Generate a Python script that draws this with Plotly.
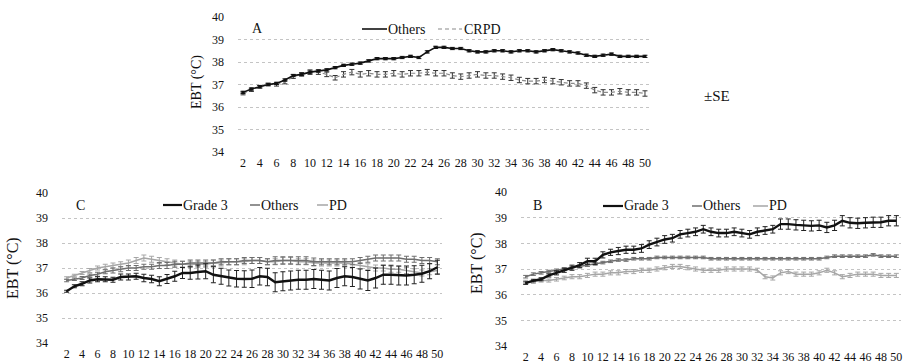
import plotly.graph_objects as go

# ---------------- data ----------------
days = [2, 3, 4, 5, 6, 7, 8, 9, 10, 11, 12, 13, 14, 15, 16, 17, 18, 19, 20, 21, 22, 23, 24, 25, 26,
        27, 28, 29, 30, 31, 32, 33, 34, 35, 36, 37, 38, 39, 40, 41, 42, 43, 44, 45, 46, 47, 48, 49, 50]
x_tick_vals = [2, 4, 6, 8, 10, 12, 14, 16, 18, 20, 22, 24, 26, 28, 30, 32, 34, 36, 38, 40, 42, 44, 46, 48, 50]
x_tick_text = ["2", "4", "6", "8", "10", "12", "14", "16", "18", "20", "22", "24", "26", "28", "30",
               "32", "34", "36", "38", "40", "42", "44", "46", "48", "50"]
y_tick_vals = [34, 35, 36, 37, 38, 39, 40]

# Panel A
A_others = [36.65, 36.8, 36.9, 37.0, 37.05, 37.2, 37.4, 37.45, 37.55, 37.6, 37.65, 37.75, 37.85, 37.9,
            37.95, 38.05, 38.15, 38.15, 38.15, 38.2, 38.25, 38.2, 38.45, 38.65, 38.65, 38.6, 38.6, 38.5,
            38.45, 38.45, 38.5, 38.5, 38.45, 38.5, 38.5, 38.45, 38.5, 38.55, 38.5, 38.45, 38.4, 38.3,
            38.25, 38.3, 38.35, 38.25, 38.25, 38.25, 38.25]
A_others_se = [0.05] * 49
A_crpd = [36.6, 36.75, 36.9, 37.0, 37.0, 37.1, 37.35, 37.45, 37.55, 37.55, 37.45, 37.3, 37.45, 37.55,
          37.45, 37.5, 37.45, 37.45, 37.5, 37.45, 37.5, 37.5, 37.55, 37.5, 37.5, 37.4, 37.35, 37.4,
          37.45, 37.4, 37.4, 37.35, 37.3, 37.2, 37.15, 37.15, 37.2, 37.15, 37.1, 37.05, 37.05, 36.95,
          36.75, 36.65, 36.65, 36.7, 36.65, 36.65, 36.6]
A_crpd_se = [0.06, 0.06, 0.06, 0.06, 0.07, 0.07, 0.08, 0.08, 0.1, 0.1, 0.1, 0.1, 0.12, 0.12, 0.12, 0.12,
             0.12, 0.12, 0.12, 0.12, 0.12, 0.12, 0.12, 0.12, 0.12, 0.12, 0.12, 0.12, 0.12, 0.12, 0.12,
             0.12, 0.12, 0.12, 0.12, 0.12, 0.12, 0.12, 0.12, 0.12, 0.12, 0.12, 0.12, 0.12, 0.12, 0.12,
             0.12, 0.12, 0.12]

# Panel C
C_grade3 = [36.07, 36.27, 36.37, 36.5, 36.55, 36.55, 36.53, 36.64, 36.64, 36.67, 36.6, 36.56, 36.47,
            36.56, 36.67, 36.8, 36.8, 36.84, 36.87, 36.73, 36.67, 36.6, 36.57, 36.56, 36.57, 36.67,
            36.64, 36.43, 36.47, 36.5, 36.53, 36.53, 36.56, 36.53, 36.5, 36.6, 36.67, 36.64, 36.56,
            36.5, 36.6, 36.73, 36.73, 36.7, 36.7, 36.73, 36.77, 36.87, 37.03]
C_grade3_se = [0.04, 0.06, 0.08, 0.1, 0.1, 0.1, 0.1, 0.12, 0.12, 0.12, 0.15, 0.15, 0.18, 0.18, 0.2,
               0.22, 0.25, 0.28, 0.3, 0.32, 0.32, 0.32, 0.33, 0.33, 0.35, 0.35, 0.35, 0.38, 0.38, 0.38,
               0.38, 0.38, 0.38, 0.38, 0.38, 0.38, 0.38, 0.38, 0.4, 0.4, 0.4, 0.38, 0.38, 0.38, 0.38,
               0.36, 0.34, 0.3, 0.28]
C_others = [36.5, 36.55, 36.6, 36.7, 36.75, 36.85, 36.9, 36.95, 37.0, 37.0, 37.05, 37.05, 37.1, 37.1,
            37.15, 37.15, 37.2, 37.2, 37.2, 37.2, 37.25, 37.25, 37.25, 37.3, 37.3, 37.3, 37.25, 37.3,
            37.3, 37.3, 37.3, 37.3, 37.25, 37.25, 37.25, 37.25, 37.25, 37.25, 37.3, 37.35, 37.4, 37.4,
            37.4, 37.4, 37.35, 37.35, 37.3, 37.3, 37.25]
C_others_se = [0.05, 0.05, 0.06, 0.06, 0.08, 0.08, 0.1, 0.1, 0.1, 0.1, 0.1, 0.1, 0.12, 0.12, 0.12,
               0.12, 0.12, 0.12, 0.12, 0.12, 0.12, 0.12, 0.12, 0.12, 0.12, 0.12, 0.12, 0.15, 0.15,
               0.15, 0.15, 0.15, 0.15, 0.12, 0.12, 0.12, 0.12, 0.12, 0.12, 0.12, 0.12, 0.12, 0.12,
               0.12, 0.12, 0.12, 0.12, 0.12, 0.12]
C_pd = [36.6, 36.7, 36.8, 36.9, 37.0, 37.05, 37.1, 37.15, 37.2, 37.3, 37.4, 37.35, 37.3, 37.25, 37.2,
        37.15, 37.15, 37.15, 37.15, 37.2, 37.2, 37.25, 37.25, 37.25, 37.3, 37.3, 37.25, 37.25, 37.3,
        37.3, 37.25, 37.25, 37.2, 37.2, 37.2, 37.2, 37.2, 37.15, 37.1, 37.05, 37.0, 37.0, 36.95,
        36.95, 36.9, 36.85, 36.8, 36.85, 36.9]
C_pd_se = [0.05, 0.05, 0.06, 0.08, 0.08, 0.1, 0.1, 0.1, 0.12, 0.12, 0.12, 0.12, 0.12, 0.12, 0.12,
           0.12, 0.12, 0.12, 0.12, 0.12, 0.12, 0.12, 0.12, 0.12, 0.12, 0.12, 0.12, 0.12, 0.12, 0.12,
           0.12, 0.12, 0.12, 0.12, 0.12, 0.12, 0.12, 0.12, 0.12, 0.12, 0.12, 0.12, 0.12, 0.12, 0.12,
           0.12, 0.12, 0.12, 0.12]

# Panel B
B_grade3 = [36.45, 36.55, 36.6, 36.75, 36.85, 36.95, 37.05, 37.15, 37.3, 37.3, 37.55, 37.65, 37.7,
            37.75, 37.75, 37.8, 37.95, 38.05, 38.15, 38.2, 38.35, 38.4, 38.45, 38.55, 38.45, 38.4,
            38.4, 38.45, 38.4, 38.35, 38.45, 38.5, 38.55, 38.75, 38.75, 38.72, 38.7, 38.68, 38.7,
            38.62, 38.7, 38.88, 38.8, 38.78, 38.8, 38.82, 38.82, 38.88, 38.88]
B_grade3_se = [0.05, 0.05, 0.06, 0.06, 0.08, 0.08, 0.1, 0.1, 0.12, 0.12, 0.12, 0.12, 0.14, 0.14,
               0.14, 0.15, 0.15, 0.15, 0.15, 0.15, 0.15, 0.15, 0.15, 0.15, 0.15, 0.15, 0.15, 0.15,
               0.15, 0.15, 0.15, 0.15, 0.15, 0.2, 0.2, 0.2, 0.2, 0.2, 0.2, 0.2, 0.2, 0.2, 0.2, 0.2,
               0.2, 0.2, 0.2, 0.2, 0.2]
B_others = [36.7, 36.8, 36.85, 36.9, 36.95, 37.0, 37.05, 37.1, 37.15, 37.2, 37.25, 37.3, 37.35, 37.35,
            37.4, 37.4, 37.4, 37.45, 37.45, 37.45, 37.45, 37.45, 37.45, 37.45, 37.4, 37.4, 37.4, 37.4,
            37.4, 37.4, 37.4, 37.4, 37.4, 37.4, 37.4, 37.4, 37.4, 37.4, 37.4, 37.45, 37.5, 37.5, 37.5,
            37.5, 37.5, 37.55, 37.5, 37.5, 37.5]
B_others_se = [0.05] * 49
B_pd = [36.5, 36.5, 36.55, 36.55, 36.6, 36.65, 36.7, 36.7, 36.75, 36.8, 36.8, 36.85, 36.85, 36.9,
        36.9, 36.95, 36.95, 37.0, 37.05, 37.1, 37.1, 37.05, 37.0, 36.95, 36.95, 36.95, 37.0, 37.0,
        37.0, 37.0, 36.95, 36.7, 36.65, 36.85, 36.9, 36.8, 36.8, 36.8, 36.85, 36.95, 36.85, 36.7,
        36.75, 36.8, 36.8, 36.8, 36.75, 36.75, 36.75]
B_pd_se = [0.06, 0.06, 0.06, 0.06, 0.07, 0.07, 0.08, 0.08, 0.08, 0.08, 0.08, 0.08, 0.08, 0.08, 0.08,
           0.08, 0.08, 0.08, 0.08, 0.08, 0.08, 0.08, 0.08, 0.08, 0.08, 0.08, 0.08, 0.08, 0.08, 0.08,
           0.08, 0.08, 0.08, 0.08, 0.08, 0.08, 0.08, 0.08, 0.08, 0.08, 0.08, 0.08, 0.08, 0.08, 0.08,
           0.08, 0.08, 0.08, 0.08]

# ---------------- style ----------------
W, H = 903, 363
FONT = "Liberation Serif, Times New Roman, serif"
BLACK = "#111111"
DARKGRAY = "#6e6e6e"
LIGHTGRAY = "#a6a6a6"

fig = go.Figure()


def add_series(xa, ya, y, se, color, width, dash="solid", err_color=None, markers=False):
    fig.add_trace(go.Scatter(
        x=days, y=y, xaxis=xa, yaxis=ya, showlegend=False,
        mode="lines+markers" if markers else "lines",
        line=dict(color=color, width=width, dash=dash),
        marker=dict(size=3, color=color, symbol="square"),
        error_y=dict(type="data", array=se, visible=True, color=err_color or color,
                     thickness=1, width=2.5),
    ))


# Panel A (xaxis / yaxis)
add_series("x", "y", A_crpd, A_crpd_se, "#8a8a8a", 1.2, dash="4px,3px", err_color="#333333")
add_series("x", "y", A_others, A_others_se, BLACK, 1.6, err_color="#222222", markers=True)
# Panel C (xaxis2 / yaxis2)
add_series("x2", "y2", C_pd, C_pd_se, LIGHTGRAY, 1.5)
add_series("x2", "y2", C_others, C_others_se, DARKGRAY, 1.5)
add_series("x2", "y2", C_grade3, C_grade3_se, BLACK, 2.4, err_color="#222222")
# Panel B (xaxis3 / yaxis3)
add_series("x3", "y3", B_pd, B_pd_se, LIGHTGRAY, 1.5)
add_series("x3", "y3", B_others, B_others_se, DARKGRAY, 1.5)
add_series("x3", "y3", B_grade3, B_grade3_se, BLACK, 2.4, err_color="#222222")


def px_x(p):
    return p / W


def px_y(p):
    return (H - p) / H


tickfont = dict(family=FONT, size=12, color="#111")
xcommon = dict(tickmode="array", tickvals=x_tick_vals, ticktext=x_tick_text, showgrid=False,
               zeroline=False, showline=False, ticks="", tickfont=tickfont, automargin=False,
               ticklabelstandoff=2, ticklabeloverflow="allow")
ycommon = dict(tickmode="array", tickvals=y_tick_vals, range=[34, 40], showgrid=True,
               gridcolor="#c4c4c4", griddash="dot", gridwidth=1, zeroline=False, showline=False,
               ticks="", tickfont=tickfont, automargin=False, ticklabelstandoff=13,
               ticklabeloverflow="allow")

layout = dict(
    width=W, height=H, autosize=False, margin=dict(l=0, r=0, t=0, b=0),
    paper_bgcolor="white", plot_bgcolor="white", showlegend=False,
    font=dict(family=FONT, color="#111"),
    xaxis=dict(domain=[px_x(238), px_x(650)], range=[1.4, 50.6], anchor="y", **xcommon),
    yaxis=dict(domain=[px_y(152), px_y(17)], anchor="x", **ycommon),
    xaxis2=dict(domain=[px_x(62), px_x(442)], range=[1.4, 50.6], anchor="y2", **xcommon),
    yaxis2=dict(domain=[px_y(343), px_y(193)], anchor="x2", **ycommon),
    xaxis3=dict(domain=[px_x(521), px_x(901)], range=[1.4, 50.6], anchor="y3", **xcommon),
    yaxis3=dict(domain=[px_y(346), px_y(192)], anchor="x3", **ycommon),
)
fig.update_layout(**layout)

annotations = []
shapes = []


def text(xp, yp, s, size, xanchor="left", angle=0):
    annotations.append(dict(x=px_x(xp), y=px_y(yp), xref="paper", yref="paper", text=s,
                            showarrow=False, xanchor=xanchor, yanchor="middle", textangle=angle,
                            font=dict(family=FONT, size=size, color="#111")))


def legend_line(x0, x1, yp, color, width, dash="solid"):
    shapes.append(dict(type="line", xref="paper", yref="paper", x0=px_x(x0), x1=px_x(x1),
                       y0=px_y(yp), y1=px_y(yp), line=dict(color=color, width=width, dash=dash)))


# Panel labels
text(250, 28, "A", 14)
text(74, 205, "C", 14)
text(531, 205, "B", 14)

# Y titles
text(197, 82, "EBT (°C)", 14, xanchor="center", angle=-90)
text(13, 268, "EBT (°C)", 16, xanchor="center", angle=-90)
text(477, 263, "EBT (°C)", 16, xanchor="center", angle=-90)

# ±SE note
text(702, 96, "±SE", 15)

# Legend A
legend_line(362, 387, 29, BLACK, 1.6)
text(386, 29, "Others", 14)
legend_line(438, 462, 29, "#8a8a8a", 1.2, dash="4px,3px")
text(462, 29, "CRPD", 14)

# Legend C
legend_line(163, 182, 205, BLACK, 2.2)
text(181, 205, "Grade 3", 14)
legend_line(250, 260, 205, DARKGRAY, 1.5)
text(259, 205, "Others", 14)
legend_line(317, 328, 205, LIGHTGRAY, 1.5)
text(327, 205, "PD", 14)

# Legend B
legend_line(603, 623, 206, BLACK, 2.2)
text(622, 206, "Grade 3", 14)
legend_line(692, 702, 206, DARKGRAY, 1.5)
text(701, 206, "Others", 14)
legend_line(753, 768, 206, LIGHTGRAY, 1.5)
text(767, 206, "PD", 14)

fig.update_layout(annotations=annotations, shapes=shapes)

fig.write_html("out.html")
